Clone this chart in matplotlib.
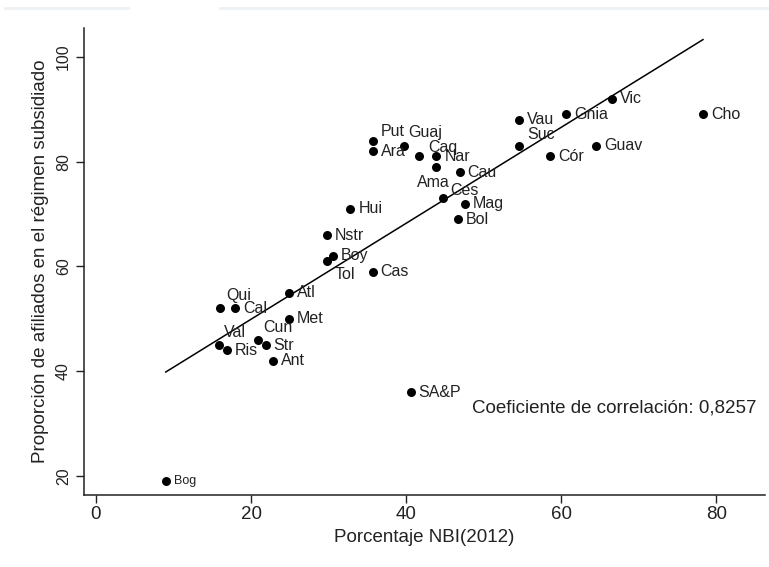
"""Scatter of NBI vs share in subsidised regime, by department"""

import numpy as np
import matplotlib
matplotlib.use('Agg')
import matplotlib.pyplot as plt
from matplotlib.lines import Line2D

plt.rcParams['font.family'] = ['Liberation Sans', 'DejaVu Sans']

# Data
names = ['Bog', 'Qui', 'Cal', 'Atl', 'Met', 'Val', 'Ris', 'Cun', 'Str', 'Ant',
         'Tol', 'Boy', 'Nstr', 'Cas', 'Hui', 'Put', 'Ara', 'Guaj', 'Caq', 'Nar',
         'Ama', 'Cau', 'Ces', 'Mag', 'Bol', 'Vau', 'Suc', 'Gnia', 'Vic', 'Cór',
         'Guav', 'Cho', 'SA&P']
nbi = [9.0, 16.0, 17.9, 24.9, 24.9, 15.9, 16.9, 20.9, 21.9, 22.8,
       29.8, 30.6, 29.8, 35.7, 32.8, 35.7, 35.7, 39.7, 41.7, 43.9,
       43.9, 46.9, 44.8, 47.6, 46.7, 54.6, 54.6, 60.6, 66.5, 58.6,
       64.5, 78.3, 40.6]
subsid = [19.0, 52.0, 52.0, 55.0, 50.0, 45.0, 44.0, 46.0, 45.0, 42.0,
          61.0, 62.0, 66.0, 59.0, 71.0, 84.0, 82.0, 83.0, 81.0, 81.0,
          79.0, 78.0, 73.0, 72.0, 69.0, 88.0, 83.0, 89.0, 92.0, 81.0,
          83.0, 89.0, 36.0]
corr_text = 'Coeficiente de correlación: 0,8257'

# Label offsets in pixels (dx, dy, ha); default is right of the dot
label_pos = {
    'Put': (8, 9, 'left'), 'Guaj': (4, 13, 'left'), 'Caq': (9, 9, 'left'),
    'Ces': (7, 8, 'left'), 'Ama': (-3, -16, 'center'), 'Suc': (8, 11, 'left'),
    'Tol': (8, -13, 'left'), 'Qui': (6, 13, 'left'), 'Val': (5, 13, 'left'),
    'Cun': (5, 12, 'left'),
}

fig = plt.figure(figsize=(7.69, 5.67), dpi=100)
ax = fig.add_axes([0.1092, 0.127, 0.8856, 0.8236])

ax.scatter(nbi, subsid, s=42, color='black', zorder=3, linewidths=0)

for name, x, y in zip(names, nbi, subsid):
    dx, dy, ha = label_pos.get(name, (8, 0, 'left'))
    size = 9 if name == 'Bog' else 11.5
    ax.annotate(name, (x, y), xytext=(dx * 0.72, dy * 0.72),
                textcoords='offset points', ha=ha, va='center',
                fontsize=size, color='#222222')

# Fitted line over the data range
coef = np.polyfit(nbi, subsid, 1)
xs = np.array([min(nbi), max(nbi)])
ax.plot(xs, np.polyval(coef, xs), color='black', lw=1.1, zorder=2)

ax.text(48.5, 33, corr_text, fontsize=13.5, va='center', color='#222222')

ax.set_xlim(-1.55, 86.3)
ax.set_ylim(16.4, 105.5)
ax.set_xticks([0, 20, 40, 60, 80])
ax.set_yticks([20, 40, 60, 80, 100])
ax.tick_params(axis='both', direction='out', length=6, width=1,
               colors='#222222')
ax.tick_params(axis='x', labelsize=13.5, pad=2)
ax.tick_params(axis='y', labelsize=11.5)
for lab in ax.get_yticklabels():
    lab.set_rotation(90)
    lab.set_va('center')

ax.set_xlabel('Porcentaje NBI(2012)', fontsize=13.5, color='#222222', labelpad=4)
ax.set_ylabel('Proporción de afiliados en el régimen subsidiado', fontsize=13.5,
              color='#222222', labelpad=5)

ax.spines['top'].set_visible(False)
ax.spines['right'].set_visible(False)
for sp in ('left', 'bottom'):
    ax.spines[sp].set_color('#222222')
    ax.spines[sp].set_linewidth(1.1)

# faint screenshot edges along the top
fig.add_artist(Line2D([5 / 769, 128 / 769], [1 - 8 / 567] * 2,
                      color='#eef1f4', lw=2, transform=fig.transFigure))
fig.add_artist(Line2D([220 / 769, 1], [1 - 8 / 567] * 2,
                      color='#eef1f4', lw=2, transform=fig.transFigure))

fig.savefig('out.png', dpi=100)
